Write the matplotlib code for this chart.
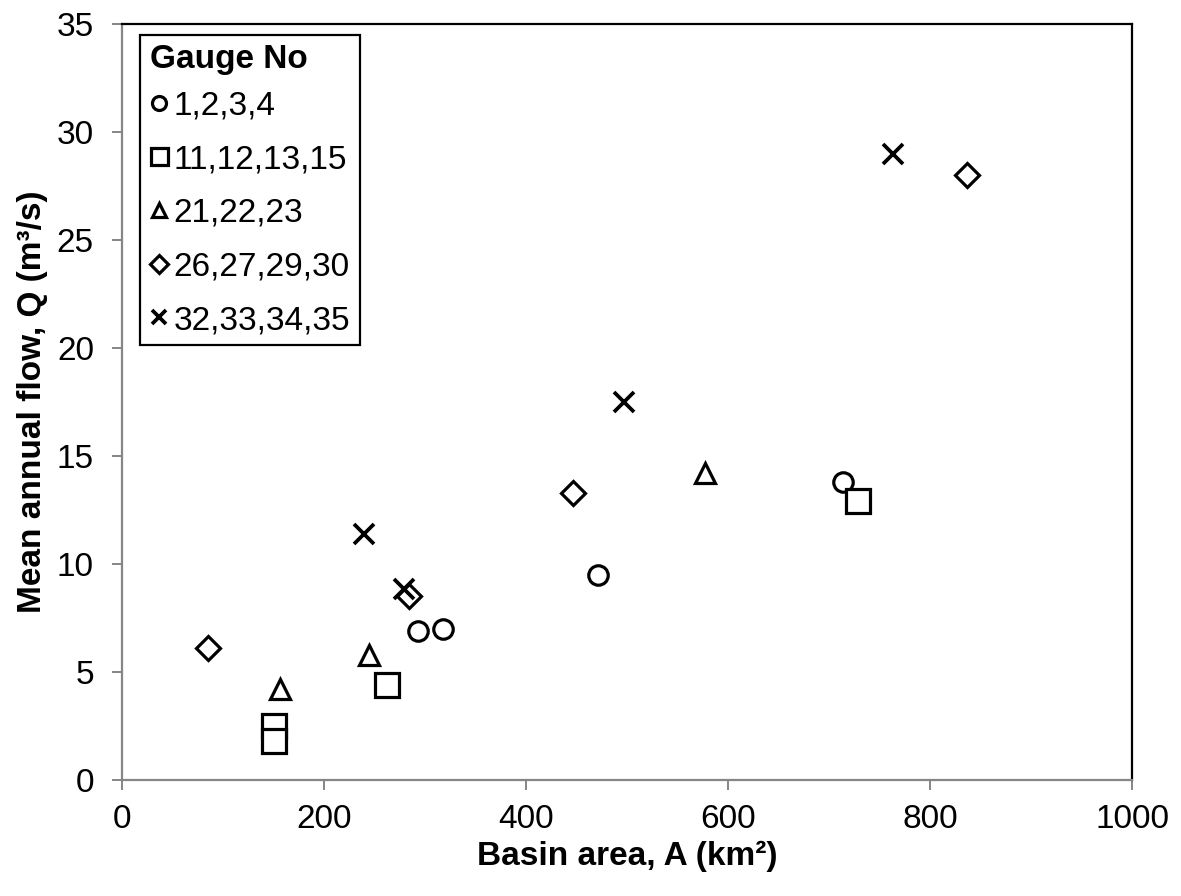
import numpy as np
import matplotlib
matplotlib.use('Agg')
import matplotlib.pyplot as plt

plt.rcParams['font.family'] = ['Liberation Sans', 'DejaVu Sans']

# gauge groups (basin area km2, mean annual flow m3/s)
g1_area = [293, 318, 471, 714]
g1_flow = [6.9, 7.0, 9.5, 13.8]
g2_area = [150, 150, 262, 728]
g2_flow = [2.5, 1.8, 4.4, 12.9]
g3_area = [156, 244, 577]
g3_flow = [4.2, 5.8, 14.2]
g4_area = [85, 284, 446, 836]
g4_flow = [6.1, 8.5, 13.3, 28.0]
g5_area = [240, 279, 497, 763]
g5_flow = [11.4, 8.85, 17.5, 29.0]

labels = ['1,2,3,4', '11,12,13,15', '21,22,23', '26,27,29,30', '32,33,34,35']

fig = plt.figure(figsize=(11.81, 8.96), dpi=100)
ax = fig.add_axes([0.1033, 0.1295, 0.8555, 0.8434])

mk = dict(linestyle='none', markerfacecolor='white', markeredgecolor='black', markeredgewidth=2.3)
ax.plot(g1_area, g1_flow, marker='o', markersize=14, label=labels[0], **mk)
ax.plot(g2_area, g2_flow, marker='s', markersize=17, label=labels[1], **mk)
ax.plot(g3_area, g3_flow, marker='^', markersize=14.5, label=labels[2], **mk)
ax.plot(g4_area, g4_flow, marker='D', markersize=12.5, label=labels[3], **mk)
ax.plot(g5_area, g5_flow, marker='x', markersize=14, label=labels[4], color='black',
        linestyle='none', markeredgewidth=2.7)

ax.set_xlim(0, 1000)
ax.set_ylim(0, 35)
ax.set_xticks(np.arange(0, 1001, 200))
ax.set_yticks(np.arange(0, 36, 5))

gray = '#868686'
ax.spines['left'].set_color(gray)
ax.spines['bottom'].set_color(gray)
ax.spines['top'].set_color('black')
ax.spines['right'].set_color('black')
for s in ax.spines.values():
    s.set_linewidth(1.6)
ax.tick_params(axis='both', direction='out', length=7.2, width=1.4, color=gray,
               labelsize=24)
ax.tick_params(axis='y', pad=13)
ax.tick_params(axis='x', pad=10)

ax.set_xlabel('Basin area, A (km²)', fontsize=24, fontweight='bold', labelpad=4)
ax.set_ylabel('Mean annual flow, Q (m³/s)', fontsize=24, fontweight='bold', labelpad=6)

leg = ax.legend(title='Gauge No', loc='upper left', bbox_to_anchor=(0.018, 0.986),
                fontsize=24, title_fontproperties={'size': 24, 'weight': 'bold'},
                markerscale=0.72, handlelength=0.55, handletextpad=0.18,
                labelspacing=0.68, borderpad=0.28, borderaxespad=0,
                fancybox=False, framealpha=1, edgecolor='black', alignment='left')
leg.get_frame().set_linewidth(1.6)
# tighter gap between title and first entry
leg._legend_box.sep = 11

fig.savefig('out.png', dpi=100)
